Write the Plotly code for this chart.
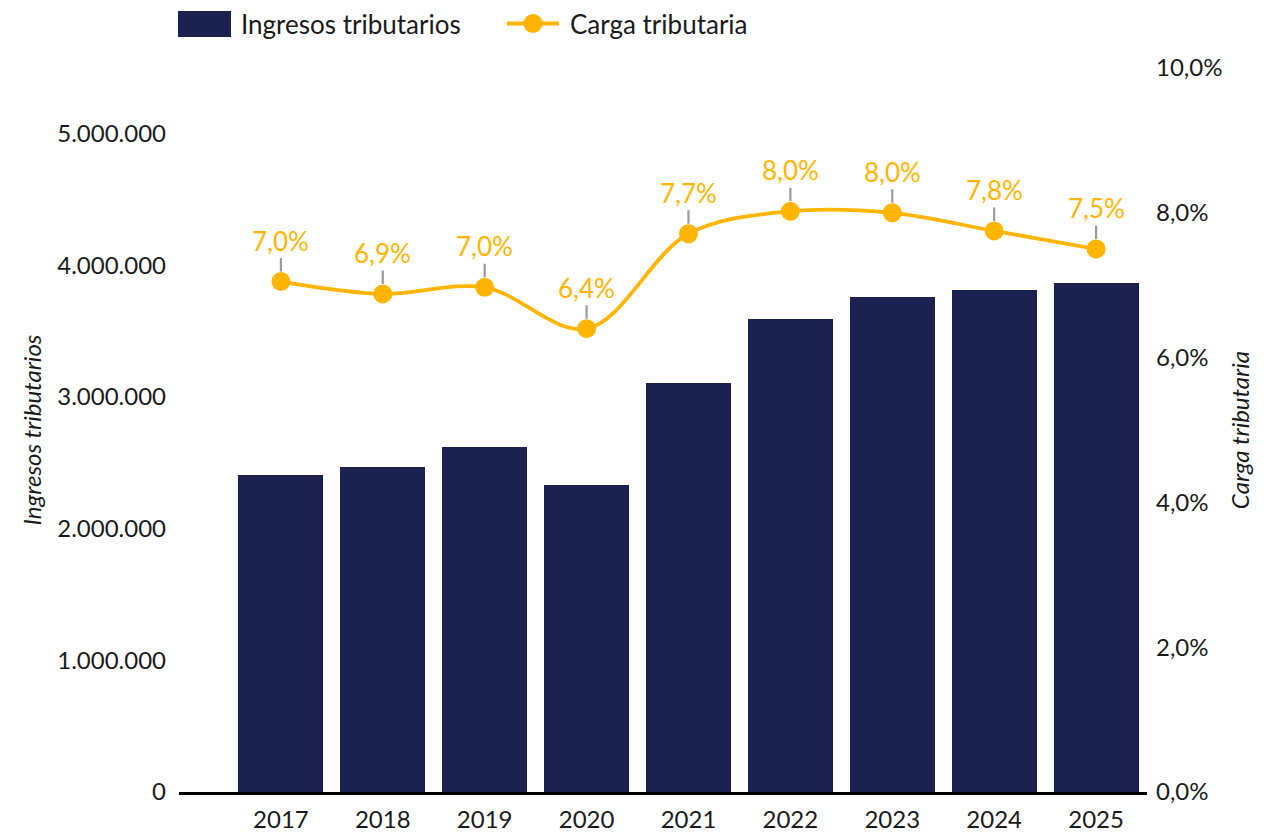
import plotly.graph_objects as go

# ── data ────────────────────────────────────────────────────────────────
years = ["2017", "2018", "2019", "2020", "2021", "2022", "2023", "2024", "2025"]
ingresos = [2410000, 2470000, 2620000, 2335000, 3110000, 3597000, 3764000, 3810000, 3870000]
carga = [0.0705, 0.0688, 0.0697, 0.0640, 0.0771, 0.0802, 0.0800, 0.0775, 0.0750]

BAR_COLOR = "#1b2150"
LINE_COLOR = "#ffb400"
LEADER = "#9a9a9a"
TXT = "#1a1a1a"
FONT = "Lato"

# page puts the figure 8px in from the top-left corner
OFF = 8
W, H = 1276 - OFF, 833 - OFF
M_L, M_R, M_T, M_B = 171, 129, 60, 41
PW, PH = W - M_L - M_R, H - M_T - M_B


def px(xs):
    # screen pixel -> paper x
    return (xs - OFF - M_L) / PW


def py(ys):
    # screen pixel -> paper y
    return (H - M_B - (ys - OFF)) / PH


fig = go.Figure()

fig.add_trace(go.Bar(
    x=years, y=ingresos, name="Ingresos tributarios",
    marker_color=BAR_COLOR, marker_line_width=0,
    width=0.834, yaxis="y", showlegend=False,
))

fig.add_trace(go.Scatter(
    x=years, y=carga, name="Carga tributaria",
    mode="lines+markers", yaxis="y2",
    line=dict(color=LINE_COLOR, width=3.8, shape="spline", smoothing=1),
    marker=dict(color=LINE_COLOR, size=19),
    showlegend=False,
))

# data labels with small leader lines (category axis -> use serial index)
for i, v in enumerate(carga):
    fig.add_annotation(
        x=i, y=v, xref="x", yref="y2",
        text=f"{v * 100:.1f}%".replace(".", ","),
        showarrow=True, arrowhead=0, arrowwidth=2.2, arrowcolor=LEADER,
        ax=0, ay=-41, standoff=10,
        font=dict(family=FONT, size=26, color=LINE_COLOR),
    )

# ── custom legend ───────────────────────────────────────────────────────
fig.add_shape(type="rect", xref="paper", yref="paper",
              x0=px(178), x1=px(231), y0=py(37), y1=py(11),
              fillcolor=BAR_COLOR, line_width=0)
fig.add_annotation(x=px(239), y=py(24), xref="paper", yref="paper",
                   text="Ingresos tributarios", showarrow=False,
                   xanchor="left", yanchor="middle",
                   font=dict(family=FONT, size=26, color=TXT))
fig.add_shape(type="line", xref="paper", yref="paper",
              x0=px(507), x1=px(559), y0=py(23.5), y1=py(23.5),
              line=dict(color=LINE_COLOR, width=3.8))
fig.add_shape(type="circle", xref="paper", yref="paper",
              x0=px(523.5), x1=px(542.5), y0=py(33), y1=py(14),
              fillcolor=LINE_COLOR, line_width=0)
fig.add_annotation(x=px(568), y=py(24), xref="paper", yref="paper",
                   text="Carga tributaria", showarrow=False,
                   xanchor="left", yanchor="middle",
                   font=dict(family=FONT, size=26, color=TXT))

fig.update_layout(
    width=W, height=H,
    margin=dict(l=M_L, r=M_R, t=M_T, b=M_B, autoexpand=False),
    paper_bgcolor="white", plot_bgcolor="white",
    separators=",.",
    font=dict(family=FONT, size=24, color=TXT),
    bargap=0,
    xaxis=dict(
        type="category", range=[-1, 8.5],
        showline=True, linecolor="black", linewidth=3,
        showgrid=False, ticks="", ticklabelstandoff=4,
        tickfont=dict(family=FONT, size=24, color=TXT),
    ),
    yaxis=dict(
        range=[0, 5500000], dtick=1000000, tickformat=",d",
        showgrid=False, zeroline=False, showline=False, ticks="",
        ticklabelstandoff=12,
        tickfont=dict(family=FONT, size=24, color=TXT),
        title=dict(text="<i>Ingresos tributarios</i>", standoff=8,
                   font=dict(family=FONT, size=24, color=TXT)),
    ),
    yaxis2=dict(
        overlaying="y", side="right",
        range=[0, 0.1], dtick=0.02, tickformat=".1%",
        showgrid=False, zeroline=False, showline=False, ticks="",
        ticklabelstandoff=8,
        tickfont=dict(family=FONT, size=24, color=TXT),
        title=dict(text="<i>Carga tributaria</i>", standoff=10,
                   font=dict(family=FONT, size=24, color=TXT)),
    ),
)

fig.write_html("out.html")
